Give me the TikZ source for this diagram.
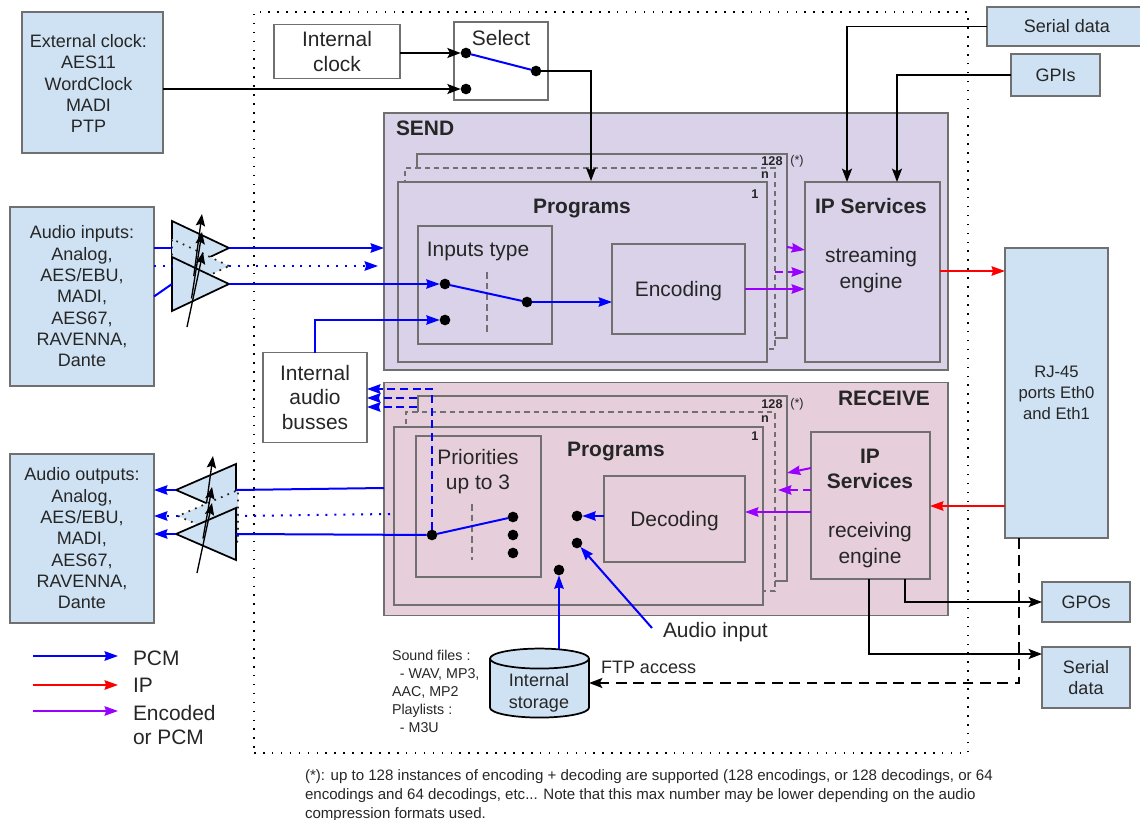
\documentclass[tikz,border=0pt]{standalone}
\usepackage{fontspec}
\setmainfont{Liberation Sans}
\usetikzlibrary{arrows.meta,calc,shapes.geometric}
\definecolor{AudioBlue}{HTML}{CFE2F3}
\definecolor{SendPanel}{HTML}{D9D2E9}
\definecolor{RecvPanel}{HTML}{E6CEDB}
\definecolor{BoxEdge}{HTML}{707070}
\definecolor{TextDark}{HTML}{262626}
\definecolor{PcmBlue}{HTML}{0000FF}
\definecolor{IpRed}{HTML}{FF0000}
\definecolor{EncPurple}{HTML}{9900FF}

\begin{document}
\begin{tikzpicture}[
  x=0.75pt, y=-0.75pt,
  every node/.style={text=TextDark, inner sep=0pt, outer sep=0pt},
  size/.style 2 args={minimum width=#1*0.75pt, minimum height=#2*0.75pt},
  box/.style={draw=BoxEdge, line width=1pt, align=center, font=\fontsize{13.5}{16}\selectfont},
  bluebox/.style={box, fill=AudioBlue},
  whitebox/.style={box, fill=white, font=\fontsize{15.7}{18.5}\selectfont},
  sendbox/.style={box, fill=SendPanel, font=\fontsize{15.7}{18.5}\selectfont},
  recvbox/.style={box, fill=RecvPanel, font=\fontsize{15.7}{18.5}\selectfont},
  stackdash/.style={dash pattern=on 4pt off 3pt, line width=0.8pt},
  lbl/.style={align=center, font=\fontsize{15.7}{18.5}\selectfont},
  head/.style={lbl, font=\fontsize{15.7}{18.5}\selectfont\bfseries},
  tiny/.style={font=\fontsize{9.5}{11}\selectfont\bfseries},
  note/.style={align=left, anchor=west, font=\fontsize{10.7}{13.5}\selectfont},
  contact/.style={circle, fill=black, minimum size=8pt},
  amp/.style={isosceles triangle, isosceles triangle stretches, fill=AudioBlue,
              draw=black, line width=1.3pt, anchor=apex},
  ampdot/.style={draw=TextDark, dash pattern=on 1.3pt off 4pt},
  gain/.style={-{Stealth[length=9pt,width=7pt,inset=1.5pt]}, line width=1pt, color=black},
  pcm/.style={-{Stealth[length=10pt,width=7pt,inset=1pt]}, line width=1.5pt, color=PcmBlue},
  ip/.style={pcm, color=IpRed},
  enc/.style={pcm, color=EncPurple},
  ctl/.style={-{Stealth[length=10pt,width=7.5pt,inset=2pt]}, line width=1.3pt, color=black},
  dashline/.style={dash pattern=on 6pt off 3.5pt},
  dotline/.style={dash pattern=on 1.5pt off 5.2pt},
  ticks/.style={dash pattern=on 5pt off 3pt, line width=0.8pt, color=BoxEdge}
]
\useasboundingbox (0,0) rectangle (1140,820);

% Frame of the unit
\node[draw=black, dash pattern=on 1.2pt off 5.5pt, line width=1.2pt, size={714}{741}] (unit) at (611,382.5) {};

% Send panel
\node[sendbox, size={564}{257}] (sendpanel) at (666,241.5) {};
\node[head, anchor=west] (sendlbl) at (396,128) {SEND};
\node[sendbox, size={370}{184}] (sendback) at (602,246) {};
\node[sendbox, stackdash, size={370}{181}] (sendmid) at (590,258.5) {};
\node[sendbox, size={369}{180}] (sendfront) at (582.5,272) {};
\node[tiny] (sendn128) at (772,161) {128};
\node[tiny, font=\fontsize{9.5}{11}\selectfont] (sendstar) at (797,161) {(*)};
\node[tiny] (sendnn) at (765,175) {n};
\node[tiny] (sendn1) at (755,194) {1};
\node[head] (sendprog) at (582,208.5) {Programs};
\node[sendbox, size={134}{118}] (inputs) at (485,285) {};
\node[lbl] (inputslbl) at (478,251.5) {Inputs type};
\node[sendbox, size={133}{90}, text depth=0pt] (encoding) at (678.5,289) {Encoding};
\node[sendbox, size={135}{180}] (ipsend) at (872.5,272) {};
\node[head] (ipsendlbl) at (871,206) {IP Services};
\node[lbl, font=\fontsize{15.7}{19}\selectfont] (ipsendsub) at (871,270) {streaming\\engine};

% Receive panel
\node[recvbox, size={564}{233}] (recvpanel) at (666,499) {};
\node[head] (recvlbl) at (884,398) {RECEIVE};
\node[recvbox, size={369}{185}] (recvback) at (602.5,488.5) {};
\node[recvbox, stackdash, size={369}{179}] (recvmid) at (590.5,501.5) {};
\node[recvbox, size={369}{178}] (recvfront) at (578.5,516) {};
\node[tiny] (recvn128) at (772,404) {128};
\node[tiny, font=\fontsize{9.5}{11}\selectfont] (recvstar) at (797,404) {(*)};
\node[tiny] (recvnn) at (765,419) {n};
\node[tiny] (recvn1) at (755,436) {1};
\node[head] (recvprog) at (616,452) {Programs};
\node[recvbox, size={125}{141}] (prio) at (478.5,506.5) {};
\node[lbl] (priolbl) at (478,471.5) {Priorities\\up to 3};
\node[recvbox, size={141}{86}, text depth=0pt] (decoding) at (674.5,519) {Decoding};
\node[recvbox, size={119}{147}] (iprecv) at (870.5,505.5) {};
\node[head] (iprecvlbl) at (870,469) {IP\\Services};
\node[lbl, font=\fontsize{15.7}{19.5}\selectfont] (iprecvsub) at (870,545) {receiving\\engine};

% Outer boxes
\node[bluebox, size={141}{141}] (extclk) at (92.5,82.5) {};
\node[lbl, font=\fontsize{13.5}{16}\selectfont] (extclklbl) at (88.5,83.5) {External clock:\\AES11\\WordClock\\MADI\\PTP};
\node[bluebox, size={144}{179}] (audioin) at (82,296.5) {Audio inputs:\\Analog,\\AES/EBU,\\MADI,\\AES67,\\RAVENNA,\\Dante};
\node[bluebox, size={144}{169}] (audioout) at (82,538.5) {Audio outputs:\\Analog,\\AES/EBU,\\MADI,\\AES67,\\RAVENNA,\\Dante};
\node[bluebox, size={160}{39}] (serialtop) at (1067,26.5) {Serial data};
\node[bluebox, size={89}{42}] (gpis) at (1055.5,75) {GPIs};
\node[bluebox, size={103}{290}, font=\fontsize{12.5}{16}\selectfont] (rj45) at (1056.5,393) {RJ-45\\ports Eth0\\and Eth1};
\node[bluebox, size={88}{40}] (gpos) at (1086,602) {GPOs};
\node[bluebox, size={88}{61}] (serialbot) at (1086,677.5) {Serial\\data};
\node[whitebox, size={126}{54}] (intclk) at (337,51.5) {Internal\\clock};
\node[whitebox, size={94}{78}] (select) at (501,61) {};
\node[lbl] (selectlbl) at (501,38) {Select};
\node[whitebox, size={104}{90}] (busses) at (315,397.5) {Internal\\audio\\busses};
\node[draw=black, line width=1.3pt, fill=AudioBlue, cylinder, shape border rotate=90,
      aspect=3, cylinder uses custom fill, cylinder body fill=AudioBlue, cylinder end fill=AudioBlue,
      size={99}{69}] (storage) at (539.5,688.5) {\phantom{x}};
\node[lbl, font=\fontsize{13.5}{16}\selectfont] (storagelbl) at (539,693) {Internal\\storage};

% Clock selection
\node[contact] (selA) at (466,53) {};
\node[contact] (selB) at (466,89) {};
\node[contact] (selC) at (536,71) {};
\draw[ctl] (intclk.east |- selA) -- (selA);
\draw[ctl] (extclk.east |- selB) -- (selB);
\draw[pcm, -] (selA) -- (selC);
\coordinate (sendclk) at (591,181);
\draw[ctl] (selC) -| (sendclk);
\draw[ctl] (serialtop.west) -| ($(ipsend.north west)+(42,0)$);
\draw[ctl] (gpis.west) -| ($(ipsend.north west)+(92,0)$);

% Amplifiers on the inputs
\node[amp, size={54}{57}] (ampA) at (229,248) {};
\node[amp, ampdot, size={54}{57}] (ampB) at (229,266) {};
\node[amp, size={54}{57}] (ampC) at (229,284) {};
\coordinate (gainA) at (202,214);
\coordinate (gainB) at (202,232);
\coordinate (gainC) at (203,252);
\coordinate (gainfoot) at (187,327);
\draw[gain] ($(gainfoot)!0.45!(gainA)$) -- (gainA);
\draw[gain] ($(gainfoot)!0.3!(gainB)$) -- (gainB);
\draw[gain] (gainfoot) -- (gainC);
\draw[pcm, -] (audioin.east |- ampA.lower side) -- (ampA.lower side);
\draw[pcm, dotline, -] (audioin.east |- ampB.lower side) -- (ampB.lower side);
\draw[pcm, -] (audioin.east) -- (ampC.lower side);
\draw[pcm] (ampA.apex) -- (sendpanel.west |- ampA.apex);
\coordinate (dotsend) at (378,266);
\draw[pcm, dotline] (ampB.apex) -- (dotsend);

% Input switch
\node[contact] (inA) at (445,284) {};
\node[contact] (inB) at (445,320) {};
\node[contact] (inC) at (527,302) {};
\coordinate (tickAtop) at (487,272);
\coordinate (tickAbot) at (487,333);
\draw[ticks] (tickAtop) -- (tickAbot);
\draw[pcm] (ampC.apex) -- (inA);
\draw[pcm] (busses.north) |- (inB);
\draw[pcm, -] (inA) -- (inC);
\draw[pcm] (inC) -- (encoding.west |- inC);

% Send side streams
\coordinate (enctop) at (787,247);
\coordinate (encmid) at (775,272);
\draw[enc] (enctop) -- (ipsend.west |- 0,250);
\draw[enc, dashline] (encmid) -- (ipsend.west |- encmid);
\draw[enc] (encoding.east) -- (ipsend.west |- encoding.east);
\draw[ip] (ipsend.east |- 0,271) -- (rj45.west |- 0,271);

% Amplifiers on the outputs
\node[amp, shape border rotate=180, size={52}{60}] (ampD) at (176,490) {};
\node[amp, shape border rotate=180, ampdot, size={52}{60}] (ampE) at (178,516) {};
\node[amp, shape border rotate=180, size={52}{60}] (ampF) at (176,534) {};
\coordinate (gainD) at (213,456);
\coordinate (gainE) at (212,487);
\coordinate (gainF) at (212,503);
\coordinate (gainbase) at (197,573);
\draw[gain] ($(gainbase)!0.6!(gainD)$) -- (gainD);
\draw[gain] ($(gainbase)!0.4!(gainE)$) -- (gainE);
\draw[gain] (gainbase) -- (gainF);
\draw[pcm, -] (recvpanel.west |- 0,488) -- (ampD.lower side);
\coordinate (dotrecv) at (390,514);
\draw[pcm, dotline, -] (dotrecv) -- (ampE.lower side);
\draw[pcm] (ampD.apex) -- (audioout.east |- ampD.apex);
\draw[pcm, dotline] (ampE.apex) -- (audioout.east |- ampE.apex);
\draw[pcm] (ampF.apex) -- (audioout.east |- ampF.apex);

% Output switch
\node[contact] (prioA) at (432,535) {};
\node[contact] (prioB) at (513,517) {};
\node[contact] (prioC) at (513,535) {};
\node[contact] (prioD) at (513,553) {};
\node[contact] (decA) at (577,516) {};
\node[contact] (decB) at (577,543) {};
\node[contact] (decC) at (559,570) {};
\coordinate (tickBtop) at (472,504);
\coordinate (tickBbot) at (472,560);
\draw[ticks] (tickBtop) -- (tickBbot);
\draw[pcm, -] (prioA) -- (prioB);
\draw[pcm, -] (prioA) -- (ampF.lower side);
\draw[pcm, dashline] (prioA) |- (busses.east |- 0,389);
\coordinate (busB) at (417,398);
\coordinate (busC) at (417,407);
\draw[pcm, dashline] (busB) -- (busses.east |- busB);
\draw[pcm, dashline] (busC) -- (busses.east |- busC);
\draw[pcm] (decoding.west |- decA) -- (decA);
\coordinate (audiotail) at (652,628);
\draw[pcm] (audiotail) -- (decB);
\draw[pcm] (storage.north -| decC) -- (decC);

% Receive side streams
\coordinate (dectop) at (787,473);
\coordinate (decmid) at (778,490);
\draw[enc] (iprecv.west |- 0,468) -- (dectop);
\draw[enc, dashline] (iprecv.west |- decmid) -- (decmid);
\draw[enc] (iprecv.west |- 0,512) -- (decoding.east |- 0,512);
\draw[ip] (rj45.west |- 0,506) -- (iprecv.east |- 0,506);
\draw[ctl] (905,0 |- iprecv.south) |- (gpos.west);
\draw[ctl] (869,0 |- iprecv.south) |- (serialbot.west |- 0,654);
\draw[ctl, dash pattern=on 8pt off 5pt] (1019,0 |- rj45.south) |- (storage.east |- 0,683);

% Free labels
\node[lbl, anchor=west] (audiolbl) at (663,632) {Audio input};
\node[lbl, anchor=west, font=\fontsize{13.5}{16}\selectfont] (ftplbl) at (601,667) {FTP access};
\node[note] (soundlbl) at (392,691.5) {Sound files :\\\ \ - WAV, MP3,\\AAC, MP2\\Playlists :\\\ \ - M3U};
\node[note, font=\fontsize{11.3}{14.25}\selectfont] (footnote) at (305,796)
  {(*): up to 128 instances of encoding + decoding are supported (128 encodings, or 128 decodings, or 64\\
   encodings and 64 decodings, etc... Note that this max number may be lower depending on the audio\\
   compression formats used.};

% Legend
\coordinate (legPcmA) at (33,656);
\coordinate (legIpA) at (33,685);
\coordinate (legEncA) at (33,711);
\node[lbl, anchor=west] (legPcm) at (133,658) {PCM};
\node[lbl, anchor=west] (legIp) at (133,685) {IP};
\node[lbl, anchor=west, align=left] (legEnc) at (133,725) {Encoded\\or PCM};
\draw[pcm] (legPcmA) -- ($(legPcm.west |- legPcmA)+(-15,0)$);
\draw[ip] (legIpA) -- ($(legIp.west |- legIpA)+(-15,0)$);
\draw[enc] (legEncA) -- ($(legEnc.west |- legEncA)+(-15,0)$);
\end{tikzpicture}
\end{document}
